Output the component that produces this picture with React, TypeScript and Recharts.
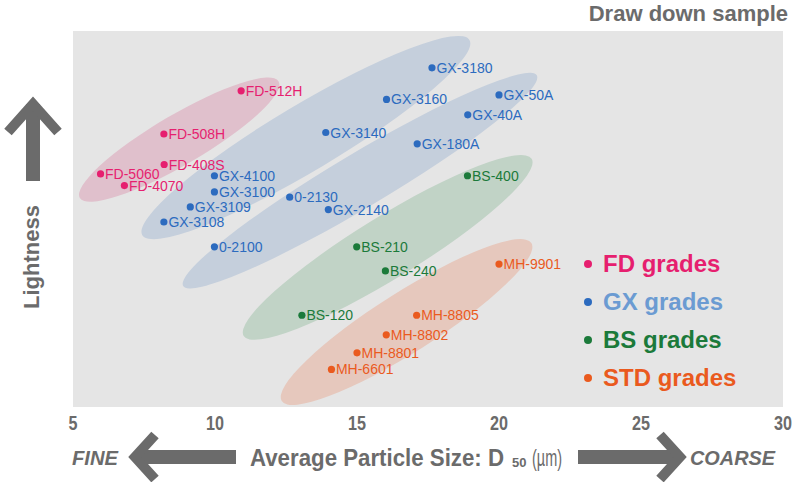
import React from 'react'
import { ScatterChart, Scatter, XAxis, YAxis, CartesianGrid, ReferenceArea } from 'recharts'

document.body.style.margin = '0'

// particle size D50 (µm) and lightness (relative, 0-100)
const fdNames = ['FD-512H', 'FD-508H', 'FD-408S', 'FD-5060', 'FD-4070']
const fdSize = [10.92, 8.2, 8.21, 5.97, 6.81]
const fdLight = [84.1, 72.6, 64.5, 62.0, 58.9]

const gxNames = ['GX-3180', 'GX-3160', 'GX-50A', 'GX-40A', 'GX-3140', 'GX-180A', 'GX-4100', 'GX-3100', '0-2130', 'GX-3109', 'GX-2140', 'GX-3108', '0-2100']
const gxSize = [17.64, 16.04, 20.0, 18.9, 13.9, 17.12, 9.98, 9.98, 12.63, 9.13, 13.99, 8.2, 9.98]
const gxLight = [90.2, 81.8, 83.0, 77.7, 73.0, 70.0, 61.5, 57.2, 55.8, 53.2, 52.5, 49.2, 42.6]

const bsNames = ['BS-400', 'BS-210', 'BS-240', 'BS-120']
const bsSize = [18.89, 14.99, 16.0, 13.06]
const bsLight = [61.5, 42.6, 36.2, 24.4]

const mhNames = ['MH-9901', 'MH-8805', 'MH-8802', 'MH-8801', 'MH-6601']
const mhSize = [20.0, 17.1, 16.03, 15.0, 14.1]
const mhLight = [38.0, 24.4, 19.2, 14.4, 10.0]

// group ellipses: major axis from (x1,y1) to (x2,y2) in data units
const ellipseKeys = ['gxUpper', 'gxLower', 'bs', 'std', 'fd']
const ellipseX1 = [7.44, 8.88, 11.01, 12.35, 5.24]
const ellipseX2 = [18.96, 21.33, 21.15, 21.14, 12.24]
const ellipseY1 = [45.7, 32.2, 18.9, 1.6, 55.6]
const ellipseY2 = [97.6, 88.2, 66.0, 43.6, 86.6]

const xTicks = [5, 10, 15, 20, 25, 30]
const legendLabels = ['FD grades', 'GX grades', 'BS grades', 'STD grades']

const ellipseStyle: Record<string, { fill: string; ry: number }> = {
    gxUpper: { fill: '#c5cfdc', ry: 33 },
    gxLower: { fill: '#c5cfdc', ry: 27 },
    bs: { fill: '#c1d3c6', ry: 31 },
    std: { fill: '#e6c8bd', ry: 30 },
    fd: { fill: '#e0c0cc', ry: 25 },
}

const legendColors = [
    { dot: '#e61f6f', text: '#e61f6f' },
    { dot: '#2c6bbf', text: '#6b9bd2' },
    { dot: '#1b7a3a', text: '#1b7a3a' },
    { dot: '#ea5a1e', text: '#ea5a1e' },
]

const SANS = '"Liberation Sans", Arial, Helvetica, sans-serif'
const GREY = '#6b6b6b'

const toPoints = (names: string[], xs: number[], ys: number[]) =>
    names.map((name, i) => ({ name, size: xs[i], light: ys[i] }))

const fdData = toPoints(fdNames, fdSize, fdLight)
const gxData = toPoints(gxNames, gxSize, gxLight)
const bsData = toPoints(bsNames, bsSize, bsLight)
const mhData = toPoints(mhNames, mhSize, mhLight)

const makeDot = (color: string) => (props: any) => {
    const { cx, cy, payload } = props
    if (cx == null || cy == null) return <g />
    return (
        <g>
            <circle cx={cx} cy={cy} r={3.6} fill={color} />
            <text x={cx + 4.5} y={cy} dy="0.36em" fill={color} fontSize={14} fontFamily={SANS}>
                {payload.name}
            </text>
        </g>
    )
}

const makeEllipse = (key: string) => (props: any) => {
    const { x, y, width, height } = props
    const { fill, ry } = ellipseStyle[key]
    const cx = x + width / 2
    const cy = y + height / 2
    const rx = Math.sqrt(width * width + height * height) / 2
    const angle = (-Math.atan2(height, width) * 180) / Math.PI
    return <ellipse cx={cx} cy={cy} rx={rx} ry={ry} fill={fill} transform={`rotate(${angle} ${cx} ${cy})`} />
}

const CondensedTick = (props: any) => {
    const { x, y, payload } = props
    const label = String(payload.value)
    return (
        <text x={x} y={y} dy="0.71em" textAnchor="middle" fill={GREY} fontSize={20} fontWeight="bold" fontFamily={SANS}
            textLength={label.length * 9} lengthAdjust="spacingAndGlyphs">
            {label}
        </text>
    )
}

const LegendBox = () => (
    <div style={{ position: 'absolute', left: 584, top: 245, fontFamily: SANS, fontWeight: 'bold', fontSize: 24 }}>
        {legendLabels.map((label, i) => (
            <div key={label} style={{ display: 'flex', alignItems: 'center', height: 38, whiteSpace: 'nowrap' }}>
                <span style={{ width: 8, height: 8, borderRadius: '50%', background: legendColors[i].dot, marginRight: 11 }} />
                <span style={{ color: legendColors[i].text }}>{label}</span>
            </div>
        ))}
    </div>
)

const Decorations = () => (
    <svg width={800} height={482} style={{ position: 'absolute', left: 0, top: 0, pointerEvents: 'none' }}>
        <text x={788} y={21} textAnchor="end" fill={GREY} fontSize={22} fontWeight="bold" fontFamily={SANS}>
            Draw down sample
        </text>
        {/* up arrow */}
        <line x1={33} y1={181} x2={33} y2={104} stroke={GREY} strokeWidth={14} />
        <polyline points="8,132 33,104 58,132" fill="none" stroke={GREY} strokeWidth={10} strokeLinejoin="miter" />
        <text x={0} y={0} transform="translate(39 257) rotate(-90)" textAnchor="middle" fill={GREY} fontSize={22} fontWeight="bold" fontFamily={SANS}>
            Lightness
        </text>
        {/* left / right arrows */}
        <line x1={236} y1={457} x2={140} y2={457} stroke={GREY} strokeWidth={14} />
        <polyline points="155,435 135,457 155,479" fill="none" stroke={GREY} strokeWidth={10} strokeLinejoin="miter" />
        <line x1={578} y1={457} x2={674} y2={457} stroke={GREY} strokeWidth={14} />
        <polyline points="660,435 680,457 660,479" fill="none" stroke={GREY} strokeWidth={10} strokeLinejoin="miter" />
        <text x={72} y={465} fill={GREY} fontSize={21} fontWeight="bold" fontStyle="italic" fontFamily={SANS}
            textLength={46} lengthAdjust="spacingAndGlyphs">
            FINE
        </text>
        <text x={690} y={465} fill={GREY} fontSize={21} fontWeight="bold" fontStyle="italic" fontFamily={SANS}
            textLength={85} lengthAdjust="spacingAndGlyphs">
            COARSE
        </text>
        <text x={250} y={466} fill={GREY} fontSize={24} fontWeight="bold" fontFamily={SANS}
            textLength={254} lengthAdjust="spacingAndGlyphs">
            Average Particle Size: D
        </text>
        <text x={512} y={467} fill={GREY} fontSize={13} fontWeight="bold" fontFamily={SANS}>
            50
        </text>
        <text x={532} y={466} fill={GREY} fontSize={24} fontFamily={SANS} textLength={30} lengthAdjust="spacingAndGlyphs">
            (µm)
        </text>
    </svg>
)

const App = () => {
    return (
        <div style={{ position: 'relative', width: 800, height: 482 }}>
            <ScatterChart width={800} height={482} margin={{ top: 31, right: 17, bottom: 45, left: 73 }}>
                <CartesianGrid fill="#e5e5e5" horizontal={false} vertical={false} />
                <XAxis
                    type="number"
                    dataKey="size"
                    domain={[5, 30]}
                    ticks={xTicks}
                    axisLine={false}
                    tickLine={false}
                    tickSize={0}
                    tickMargin={9}
                    height={30}
                    tick={<CondensedTick />}
                    interval={0}
                />
                <YAxis type="number" dataKey="light" domain={[0, 100]} hide />
                {ellipseKeys.map((key, i) => (
                    <ReferenceArea
                        key={key}
                        x1={ellipseX1[i]}
                        x2={ellipseX2[i]}
                        y1={ellipseY1[i]}
                        y2={ellipseY2[i]}
                        shape={makeEllipse(key)}
                    />
                ))}
                <Scatter name="FD grades" data={fdData} shape={makeDot('#e61f6f')} isAnimationActive={false} />
                <Scatter name="GX grades" data={gxData} shape={makeDot('#2c6bbf')} isAnimationActive={false} />
                <Scatter name="BS grades" data={bsData} shape={makeDot('#1b7a3a')} isAnimationActive={false} />
                <Scatter name="STD grades" data={mhData} shape={makeDot('#ea5a1e')} isAnimationActive={false} />
            </ScatterChart>
            <LegendBox />
            <Decorations />
        </div>
    )
}

export default App
